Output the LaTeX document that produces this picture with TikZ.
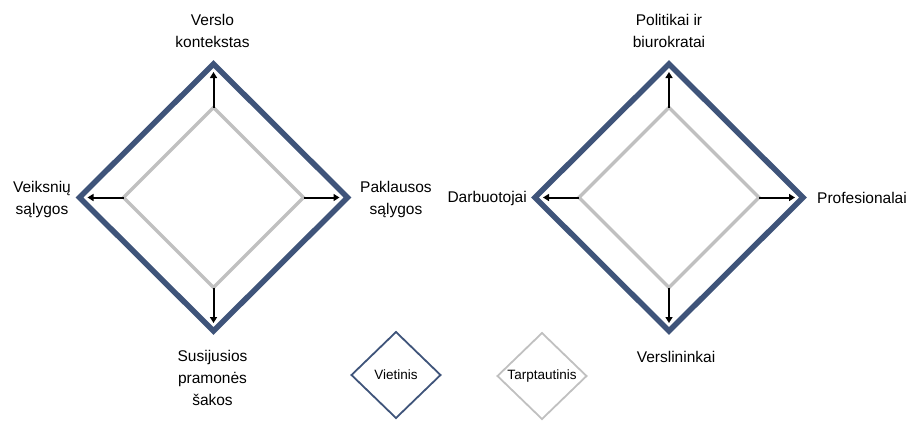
\documentclass[tikz,border=0pt]{standalone}
\usepackage{fontspec}
\setmainfont{Liberation Sans}
\usetikzlibrary{shapes.geometric,arrows.meta}
\definecolor{navy}{HTML}{3F547A}
\definecolor{lightgray}{HTML}{C0C0C0}
\begin{document}
\begin{tikzpicture}[x=1pt,y=-1pt,
  outerdia/.style={diamond,draw=navy,line width=5.5pt,minimum width=268pt,minimum height=267pt,inner sep=0pt,outer sep=0pt},
  innerdia/.style={diamond,draw=lightgray,line width=3.3pt,minimum width=180pt,minimum height=180pt,inner sep=0pt,outer sep=0pt},
  legenddia/.style={diamond,line width=1.8pt,minimum width=89pt,minimum height=86pt,inner sep=0pt,outer sep=0pt,font=\fontsize{13.5}{16}\selectfont},
  lbl/.style={align=center,font=\fontsize{15.5}{22}\selectfont,inner sep=0pt},
  push/.style={-{Triangle[length=6pt,width=7pt]},line width=2pt,black,shorten >=8pt}]
\useasboundingbox (0,0) rectangle (910,421);

% left model
\node[outerdia] (oL) at (213.5,197.5) {};
\node[innerdia] (iL) at (213.5,197.5) {};
\foreach \a in {north,south,east,west}
  \draw[push] (iL.\a) -- (oL.\a);

% right model
\node[outerdia] (oR) at (669,197.5) {};
\node[innerdia] (iR) at (669,197.5) {};
\foreach \a in {north,south,east,west}
  \draw[push] (iR.\a) -- (oR.\a);

% labels, left model
\node[lbl] (vk) at (212.5,31) {Verslo\\kontekstas};
\node[lbl] (vs) at (42,199) {Veiksnių\\sąlygos};
\node[lbl] (ps) at (396,199) {Paklausos\\sąlygos};
\node[lbl] (sps) at (212.5,378) {Susijusios\\pramonės\\šakos};

% labels, right model
\node[lbl] (pb) at (669,31) {Politikai ir\\biurokratai};
\node[lbl,anchor=east] (darb) at (527,198) {Darbuotojai};
\node[lbl,anchor=west] (prof) at (817,198) {Profesionalai};
\node[lbl] (versl) at (676,357) {Verslininkai};

% legend
\node[legenddia,draw=navy] (lv) at (396,375) {Vietinis};
\node[legenddia,draw=lightgray] (lt) at (542,376) {Tarptautinis};
\end{tikzpicture}
\end{document}
